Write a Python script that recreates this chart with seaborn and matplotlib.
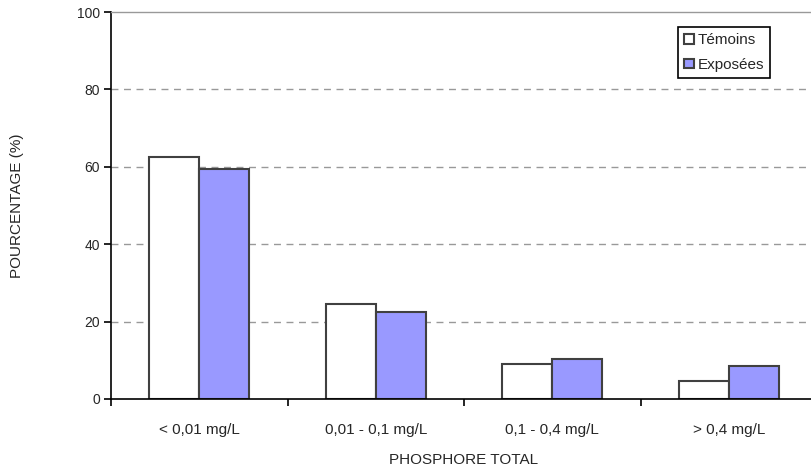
import matplotlib
matplotlib.use("Agg")
import matplotlib.pyplot as plt
import seaborn as sns
import pandas as pd

categories = ["< 0,01 mg/L", "0,01 - 0,1 mg/L", "0,1 - 0,4 mg/L", "> 0,4 mg/L"]
temoins = [62.6, 24.6, 9.1, 4.7]
exposees = [59.4, 22.5, 10.4, 8.5]
series = ["Témoins", "Exposées"]
yticks = [0, 20, 40, 60, 80, 100]

df = pd.DataFrame({
    "cat": categories * 2,
    "val": temoins + exposees,
    "grp": [series[0]] * 4 + [series[1]] * 4,
})

sns.set_style("white")
plt.rcParams["font.family"] = ["Liberation Sans", "DejaVu Sans"]

fig = plt.figure(figsize=(8.11, 4.68), dpi=100)
ax = fig.add_axes([111 / 811, 69 / 468, 706 / 811, 387 / 468])

sns.barplot(data=df, x="cat", y="val", hue="grp", order=categories,
            hue_order=series, palette=["#FFFFFF", "#9999FF"],
            width=0.566, gap=0, edgecolor="#404040", linewidth=1.5,
            saturation=1, ax=ax, legend=True)

ax.set_ylim(0, 100)
ax.set_xlim(-0.5, 3.5)
ax.set_yticks(yticks)
ax.set_yticklabels([str(v) for v in yticks], fontsize=10)
for v in yticks[1:-1]:
    ax.axhline(v, color="#999999", lw=1, dashes=(5, 4), zorder=0)

ax.set_xticks([-0.5, 0.5, 1.5, 2.5])
ax.set_xticklabels([])
ax.set_xticks(range(len(categories)), minor=True)
ax.set_xticklabels(categories, minor=True, fontsize=11)
ax.tick_params(axis="x", which="major", length=5, width=1.2, color="black", direction="out", bottom=True)
ax.tick_params(axis="x", which="minor", length=0, pad=17)
ax.tick_params(axis="y", length=5, width=1.2, color="black", direction="out", left=True, pad=3)

for s in ["left", "bottom"]:
    ax.spines[s].set_color("black")
    ax.spines[s].set_linewidth(1.2)
ax.spines["right"].set_visible(False)
ax.spines["top"].set_color("#999999")
ax.spines["top"].set_linewidth(1)

ax.set_xlabel("PHOSPHORE TOTAL", fontsize=11, labelpad=12)
ax.set_ylabel("POURCENTAGE (%)", fontsize=11)
ax.yaxis.set_label_coords((24 - 111) / 706, 0.5)

handles, labels = ax.get_legend_handles_labels()
if ax.legend_:
    ax.legend_.remove()
leg = fig.legend(handles, labels, loc="upper left",
                 bbox_to_anchor=(678 / 811, 1 - 27 / 468),
                 bbox_transform=fig.transFigure, fontsize=11,
                 frameon=True, fancybox=False, edgecolor="black",
                 handlelength=0.62, handleheight=0.6, handletextpad=0.25,
                 labelspacing=0.7, borderpad=0.4, borderaxespad=0)
leg.get_frame().set_linewidth(1.2)
leg.get_frame().set_facecolor("white")
leg.get_frame().set_alpha(1)

fig.savefig("out.png", dpi=100)
